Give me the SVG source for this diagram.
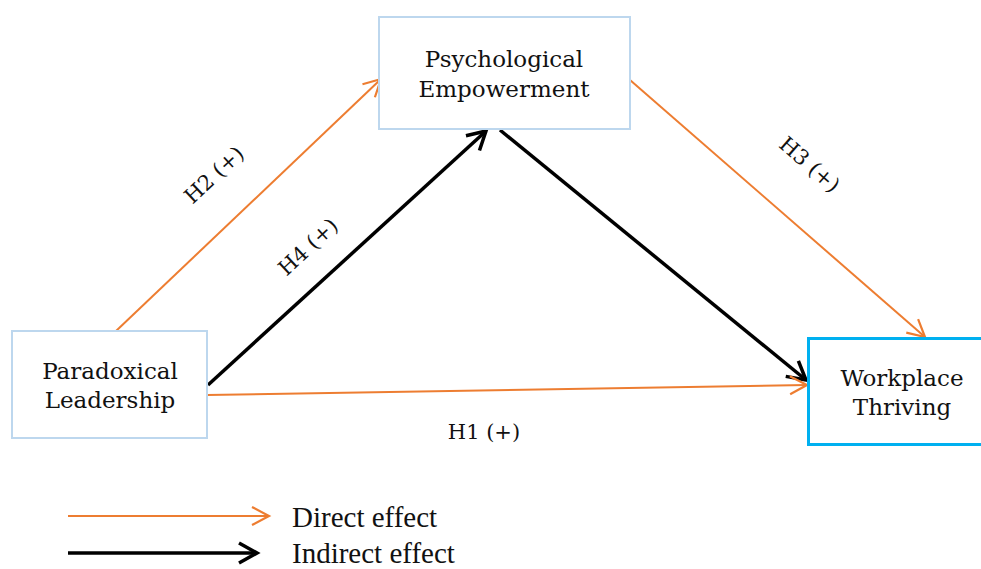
<svg xmlns="http://www.w3.org/2000/svg" width="981" height="569" viewBox="0 0 981 569">
<defs>
<style>
.node{fill:#fff;stroke:#BDD7EE;stroke-width:2}
.node2{fill:#fff;stroke:#00B0F0;stroke-width:3}
.nt{font-family:"DejaVu Serif","Liberation Serif",serif;font-size:23px;fill:#111;text-anchor:middle}
.lbl{font-family:"DejaVu Serif","Liberation Serif",serif;font-size:21px;fill:#111;text-anchor:middle}
.leg{font-family:"Liberation Serif",serif;font-size:29px;fill:#111}
.direct{fill:none;stroke:#ED7D31;stroke-width:2;marker-end:url(#ao)}
.indirect{fill:none;stroke:#000;stroke-width:3.5;marker-end:url(#ab)}
</style>
<marker id="ao" markerUnits="userSpaceOnUse" viewBox="-20 -12 24 24" refX="0" refY="0" markerWidth="24" markerHeight="24" orient="auto">
<path d="M-17,-9 L0,0 L-17,9" fill="none" stroke="#ED7D31" stroke-width="2.2" stroke-linejoin="miter"/>
</marker>
<marker id="ab" markerUnits="userSpaceOnUse" viewBox="-22 -14 26 28" refX="0" refY="0" markerWidth="26" markerHeight="28" orient="auto">
<path d="M-18,-10 L0,0 L-18,10" fill="none" stroke="#000" stroke-width="3.5" stroke-linejoin="miter"/>
</marker>
</defs>
<rect width="981" height="569" fill="#fff"/>
<g id="connectors">
<line class="direct" x1="116" y1="331" x2="381" y2="79"/>
<line class="indirect" x1="208" y1="385" x2="486" y2="131"/>
<line class="indirect" x1="500" y1="130" x2="806" y2="380"/>
<line class="direct" x1="630" y1="80" x2="925" y2="337"/>
<line class="direct" x1="207" y1="395" x2="807" y2="385"/>
<text class="lbl" transform="translate(219,180) rotate(-43)">H2 (+)</text>
<text class="lbl" transform="translate(313,252) rotate(-43)">H4 (+)</text>
<text class="lbl" transform="translate(805,170) rotate(41)">H3 (+)</text>
<text class="lbl" x="484" y="439">H1 (+)</text>
</g>
<g id="psychological-empowerment">
<rect class="node" x="379" y="17" width="251" height="112"/>
<text class="nt" x="504" y="67">Psychological</text>
<text class="nt" x="504" y="97">Empowerment</text>
</g>
<g id="paradoxical-leadership">
<rect class="node" x="12" y="331" width="195" height="107"/>
<text class="nt" x="110" y="379">Paradoxical</text>
<text class="nt" x="110" y="408">Leadership</text>
</g>
<g id="workplace-thriving">
<rect class="node2" x="808.5" y="338.5" width="180" height="106"/>
<text class="nt" x="902" y="386">Workplace</text>
<text class="nt" x="902" y="415">Thriving</text>
</g>
<g id="legend">
<line class="direct" x1="68" y1="516" x2="269" y2="516"/>
<text class="leg" x="292" y="527">Direct effect</text>
<line class="indirect" x1="68" y1="553" x2="257" y2="553"/>
<text class="leg" x="292" y="563">Indirect effect</text>
</g>
</svg>
